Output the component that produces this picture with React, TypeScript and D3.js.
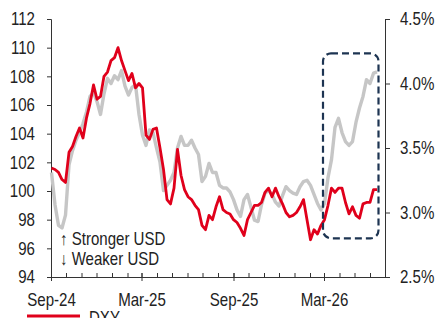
import * as d3 from "d3";
import { useEffect, useRef } from "react";

const WIDTH = 436;
const HEIGHT = 318;
const FONT = "'Liberation Sans', Arial, sans-serif";
// the source font is a narrow one, so squeeze the regular face horizontally
const SX = 0.815;
const SX_NOTE = 0.86;

// weekly observations starting on this date
const startDate = new Date(2024, 8, 2);

// DXY index (left axis)
const dxy = [
    101.6, 101.5, 101.3, 100.8, 100.6, 102.7, 103.1, 103.8, 104.4, 103.7,
    105.1, 106.1, 107.4, 106.4, 106.6, 108.0, 108.3, 109.1, 109.3, 110.0,
    109.1, 108.4, 107.7, 108.2, 107.2, 107.5, 107.2, 103.9, 103.6, 104.3,
    104.4, 103.0, 101.5, 99.4, 99.1, 100.2, 102.9, 101.1, 100.1, 99.6,
    99.4, 99.0, 98.7, 97.6, 97.3, 98.3, 98.0, 98.9, 99.6, 98.7,
    98.5, 98.4, 98.0, 97.8, 97.4, 96.9, 98.0, 98.5, 99.0, 99.0,
    99.2, 99.9, 100.2, 99.6, 100.2, 99.6, 99.1, 98.5, 98.2, 98.3,
    98.5, 98.9, 99.4, 98.0, 96.6, 97.3, 97.0, 97.6, 98.0, 99.0,
    100.2, 99.9, 100.2, 100.2, 99.2, 98.4, 98.9, 98.3, 98.1, 99.1,
    99.2, 99.2, 100.1, 100.1,
];

// yield, % (right axis)
const yieldPct = [
    3.31, 3.06, 2.9, 2.88, 2.98, 3.37, 3.48, 3.56, 3.62, 3.69,
    3.78, 3.9, 3.93, 3.86, 3.76, 3.92, 4.04, 4.0, 4.06, 4.03,
    4.1, 3.98, 3.91, 3.97, 3.99, 3.76, 3.6, 3.52, 3.64, 3.62,
    3.5, 3.39, 3.17, 3.21, 3.25, 3.31, 3.5, 3.59, 3.52, 3.52,
    3.56, 3.5, 3.45, 3.24, 3.28, 3.38, 3.31, 3.31, 3.21, 3.19,
    3.19, 3.16, 3.1, 3.02, 2.97, 3.1, 3.14, 3.04, 2.94, 2.93,
    3.06, 3.15, 3.17, 3.14, 3.08, 3.05, 3.13, 3.2, 3.17, 3.15,
    3.14, 3.2, 3.24, 3.25, 3.21, 3.14, 3.07, 3.02, 3.07, 3.27,
    3.41, 3.66, 3.73, 3.62, 3.55, 3.52, 3.55, 3.7, 3.81, 3.9,
    4.03, 4.0, 4.08, 4.09,
];

const leftTicks = [94, 96, 98, 100, 102, 104, 106, 108, 110, 112];
const rightTicks = [2.5, 3.0, 3.5, 4.0, 4.5];
const xLabels = [new Date(2024, 8, 1), new Date(2025, 2, 1), new Date(2025, 8, 1), new Date(2026, 2, 1)];
const xDomain = [new Date(2024, 8, 1), new Date(2026, 6, 1)];
const highlight = { from: new Date(2026, 1, 27), to: new Date(2026, 5, 18), top: 109.6, bottom: 96.7 };
const annotations = ["\u2191 Stronger USD", "\u2193 Weaker USD"];

function squeeze(sel: d3.Selection<any, any, any, any>, k = SX) {
    sel.each(function () {
        const t = d3.select(this);
        const x = Number(t.attr("x")) || 0;
        t.attr("x", x / k).attr("transform", `scale(${k},1)`);
    });
}

export default function App() {
    const svgRef = useRef<SVGSVGElement | null>(null);

    useEffect(() => {
        if (!svgRef.current) return;
        const svg = d3.select(svgRef.current);
        svg.selectAll("*").remove();

        const margin = { top: 19, right: 51, bottom: 41, left: 51 };
        const innerWidth = WIDTH - margin.left - margin.right;
        const innerHeight = HEIGHT - margin.top - margin.bottom;

        const dates = dxy.map((_, i) => d3.timeDay.offset(startDate, i * 7));
        const x = d3.scaleTime().domain(xDomain).range([0, innerWidth]);
        const yL = d3.scaleLinear().domain([94, 112]).range([innerHeight, 0]);
        const yR = d3.scaleLinear().domain([2.5, 4.5]).range([innerHeight, 0]);

        const g = svg.append("g").attr("transform", `translate(${margin.left},${margin.top})`);

        // left axis
        const left = g.append("g").call(d3.axisLeft(yL).tickValues(leftTicks).tickSize(4).tickPadding(12).tickFormat((d) => `${d}`));
        // right axis
        const right = g
            .append("g")
            .attr("transform", `translate(${innerWidth},0)`)
            .call(d3.axisRight(yR).tickValues(rightTicks).tickSize(5).tickPadding(10).tickFormat((d) => `${Number(d).toFixed(1)}%`));

        // minor month ticks (upward)
        g.append("g")
            .attr("transform", `translate(0,${innerHeight})`)
            .call(d3.axisTop(x).ticks(d3.timeMonth.every(1)).tickSize(4).tickFormat(() => ""))
            .call((a) => a.select(".domain").remove());
        // major ticks + labels
        const bottom = g
            .append("g")
            .attr("transform", `translate(0,${innerHeight})`)
            .call(d3.axisBottom(x).tickValues(xLabels).tickSize(4).tickSizeOuter(0).tickFormat((d) => d3.timeFormat("%b-%y")(d as Date)));
        bottom.selectAll(".tick line").attr("y1", -4);
        bottom.selectAll(".tick text").attr("y", 16);

        [left, right, bottom].forEach((a) => {
            a.selectAll("text").attr("font-family", FONT).attr("font-size", 18.5).attr("fill", "#222");
            squeeze(a.selectAll("text"));
        });
        g.selectAll("path.domain").attr("stroke", "#333");
        g.selectAll(".tick line").attr("stroke", "#333");

        // lines
        const greyLine = d3
            .line<number>()
            .x((_, i) => x(dates[i]))
            .y((d) => yR(d));
        const redLine = d3
            .line<number>()
            .x((_, i) => x(dates[i]))
            .y((d) => yL(d));

        g.append("path").attr("d", greyLine(yieldPct) ?? "").attr("fill", "none").attr("stroke", "#c6c6c6").attr("stroke-width", 3.4).attr("stroke-linejoin", "round");
        g.append("path").attr("d", redLine(dxy) ?? "").attr("fill", "none").attr("stroke", "#e0001b").attr("stroke-width", 2.8).attr("stroke-linejoin", "round");

        // highlight box
        g.append("rect")
            .attr("x", x(highlight.from))
            .attr("y", yL(highlight.top))
            .attr("width", x(highlight.to) - x(highlight.from))
            .attr("height", yL(highlight.bottom) - yL(highlight.top))
            .attr("rx", 8)
            .attr("fill", "none")
            .attr("stroke", "#1d3452")
            .attr("stroke-width", 2.2)
            .attr("stroke-dasharray", "7,4");

        // annotation
        const notes = g
            .append("g")
            .selectAll("text")
            .data(annotations)
            .enter()
            .append("text")
            .attr("x", 9)
            .attr("y", (_, i) => yL(96.23) + i * 20)
            .attr("font-family", FONT)
            .attr("font-size", 17.5)
            .attr("fill", "#222")
            .text((d) => d);
        squeeze(notes, SX_NOTE);

        // legend (cut off at bottom)
        const legend = svg.append("g").attr("transform", `translate(27,316)`);
        legend.append("line").attr("x1", 0).attr("x2", 53).attr("stroke", "#e0001b").attr("stroke-width", 3);
        const lt = legend.append("text").attr("x", 62).attr("y", 8).attr("font-family", FONT).attr("font-size", 18.5).attr("fill", "#222").text("DXY");
        squeeze(lt);
    }, []);

    return <svg ref={svgRef} width={WIDTH} height={HEIGHT} style={{ position: "absolute", left: 0, top: 0, background: "#fff" }} />;
}
